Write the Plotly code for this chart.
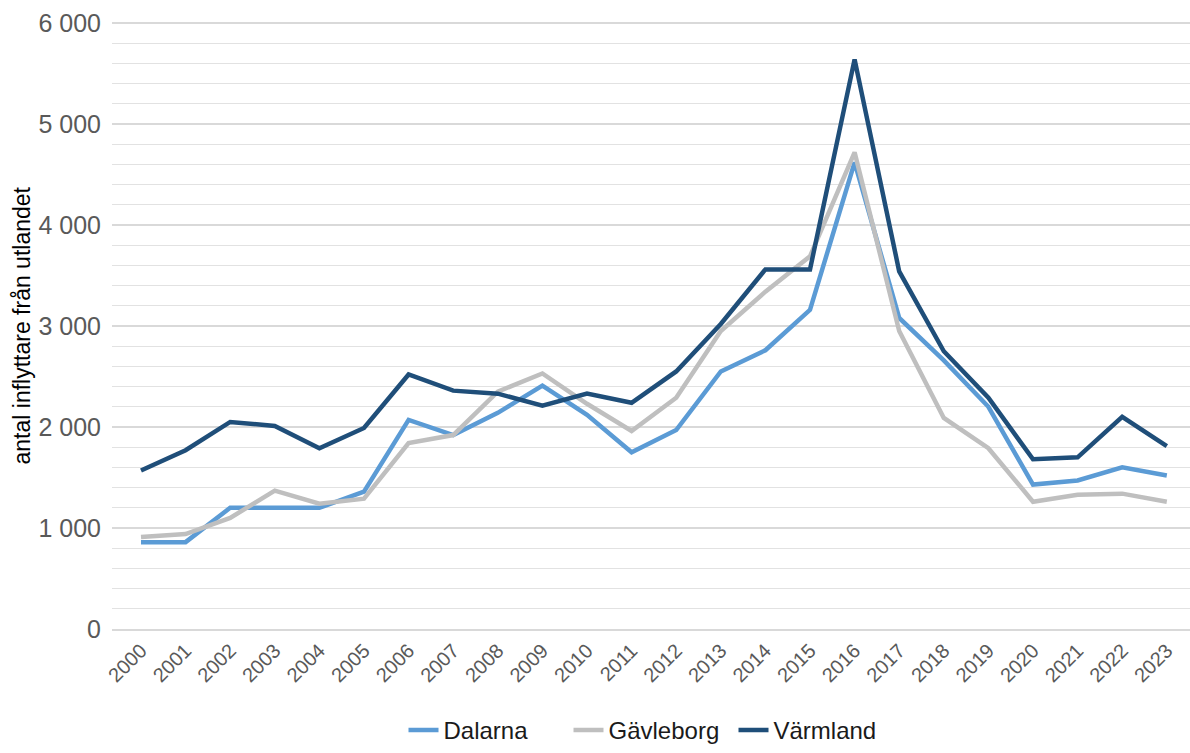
import plotly.graph_objects as go

# *** Data ***
years = list(range(2000, 2024))
dalarna = [860, 860, 1200, 1200, 1200, 1360, 2070, 1920, 2140, 2410, 2120, 1750,
           1970, 2550, 2760, 3160, 4620, 3080, 2660, 2200, 1430, 1470, 1600, 1520]
gavleborg = [910, 940, 1100, 1370, 1240, 1290, 1840, 1920, 2350, 2530, 2230, 1960,
             2290, 2950, 3340, 3690, 4720, 2950, 2090, 1790, 1260, 1330, 1340, 1260]
varmland = [1570, 1770, 2050, 2010, 1790, 1990, 2520, 2360, 2330, 2210, 2330, 2240,
            2550, 3020, 3560, 3560, 5640, 3540, 2750, 2290, 1680, 1700, 2100, 1810]

series = [("Dalarna", dalarna, "#5B9BD5"),
          ("Gävleborg", gavleborg, "#BFBFBF"),
          ("Värmland", varmland, "#1F4E79")]

fig = go.Figure()
for name, vals, col in series:
    fig.add_trace(go.Scatter(x=years, y=vals, name=name, mode="lines",
                             line=dict(color=col, width=4.5)))

# *** Layout ***
fig.update_layout(
    width=1190, height=753,
    margin=dict(l=112, r=0, t=22, b=110),
    paper_bgcolor="white", plot_bgcolor="white",
    font=dict(family="Liberation Sans, Arial, sans-serif", color="#595959"),
    separators=", ",
    showlegend=True,
    legend=dict(orientation="h", x=0.5, xanchor="center", y=-0.168, yanchor="middle",
                font=dict(size=24, color="#1a1a1a"), itemwidth=30,
                entrywidth=120, entrywidthmode="pixels"),
)
fig.update_xaxes(
    range=[1999.35, 2023.52], tickvals=years, ticktext=[str(y) for y in years],
    tickangle=-45, tickfont=dict(size=20), showgrid=False, zeroline=False,
    showline=True, linecolor="#d9d9d9", linewidth=2, ticks="", automargin=False,
    ticklabeloverflow="allow",
)
fig.update_yaxes(
    range=[0, 6010], dtick=1000, tickformat=",d", tickfont=dict(size=25),
    showgrid=True, gridcolor="#d9d9d9", gridwidth=2, zeroline=False,
    minor=dict(dtick=200, showgrid=True, gridcolor="#e2e2e2", gridwidth=1),
    ticks="", ticklabelstandoff=10, automargin=False, ticklabeloverflow="allow",
)
# y-axis title placed as rotated text left of the tick labels
fig.add_annotation(text="antal inflyttare från utlandet", textangle=-90,
                   xref="paper", yref="paper", x=-0.0835, y=0.5,
                   xanchor="center", yanchor="middle", showarrow=False,
                   font=dict(size=23, color="black"))
# drop the browser's default body margin so the figure sits at the page corner
fig.write_html("out.html", config={"displayModeBar": False},
               post_script="document.body.style.margin='0';")
